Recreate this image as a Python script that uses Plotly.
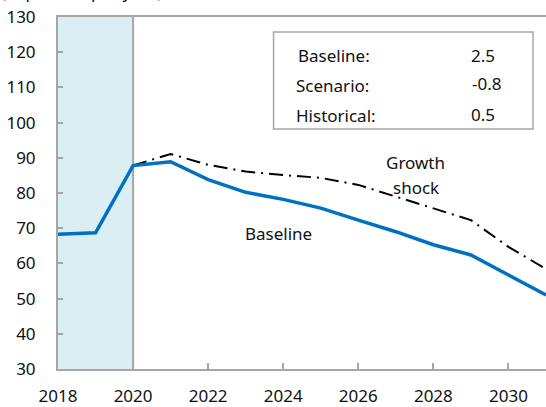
import plotly.graph_objects as go

years = list(range(2018, 2032))
baseline = [68.3, 68.7, 87.8, 88.9, 83.8, 80.2, 78.2, 75.7, 72.3, 69.0, 65.3, 62.4, 56.7, 51.0]
shock_years = list(range(2020, 2032))
growth_shock = [87.8, 91.1, 88.0, 86.1, 85.1, 84.3, 82.3, 79.0, 75.6, 72.3, 64.7, 58.4]

box_labels = ["Baseline:", "Scenario:", "Historical:"]
box_values = ["2.5", "-0.8", "0.5"]

x_ticks = list(range(2018, 2031, 2))
y_ticks = list(range(30, 131, 10))

FONT = "Noto Sans"
GRAY = "#A6A6A6"
TXT = "#111111"

fig = go.Figure()
fig.add_trace(go.Scatter(x=shock_years, y=growth_shock, mode="lines",
                         line=dict(color="black", width=2, dash="14px,6px,2px,6px"),
                         showlegend=False))
fig.add_trace(go.Scatter(x=years, y=baseline, mode="lines",
                         line=dict(color="#0070C0", width=3.5),
                         showlegend=False))

# shaded historical period
fig.add_shape(type="rect", xref="x", yref="y", x0=2018, x1=2020, y0=30, y1=130,
              fillcolor="#DAEEF3", line=dict(width=0), layer="below")
fig.add_shape(type="line", xref="x", yref="y", x0=2020, x1=2020, y0=30, y1=130,
              line=dict(color=GRAY, width=2), layer="below")

# info box
fig.add_shape(type="rect", xref="paper", yref="paper", x0=0.4417, x1=0.9734,
              y0=0.6818, y1=0.9574, fillcolor="white", line=dict(color=GRAY, width=1.5))
label_pos = [(0.4867, 0.892), (0.4826, 0.804), (0.4826, 0.7188)]
value_pos = [(0.8425, 0.892), (0.8446, 0.8125), (0.8425, 0.7216)]
for lab, (lx, ly) in zip(box_labels, label_pos):
    fig.add_annotation(xref="paper", yref="paper", x=lx, y=ly, text=lab, showarrow=False,
                       xanchor="left", yanchor="middle", font=dict(family=FONT, size=17, color=TXT))
for val, (vx, vy) in zip(box_values, value_pos):
    fig.add_annotation(xref="paper", yref="paper", x=vx, y=vy, text=val, showarrow=False,
                       xanchor="left", yanchor="middle", font=dict(family=FONT, size=17, color=TXT))

# line labels
fig.add_annotation(x=2027.52, y=88.8, text="Growth", showarrow=False,
                   font=dict(family=FONT, size=17, color=TXT))
fig.add_annotation(x=2027.55, y=81.7, text="shock", showarrow=False,
                   font=dict(family=FONT, size=17, color=TXT))
fig.add_annotation(x=2023.88, y=68.6, text="Baseline", showarrow=False,
                   font=dict(family=FONT, size=17, color=TXT))

# cut-off subtitle at top
fig.add_annotation(xref="paper", yref="paper", x=0, y=1, xshift=-58, yshift=13,
                   text="(in percent per year)", showarrow=False, xanchor="left",
                   yanchor="bottom", borderpad=0,
                   font=dict(family=FONT, size=17, color=TXT))

fig.update_layout(
    width=546, height=407,
    margin=dict(l=58, r=0, t=17, b=38, autoexpand=False),
    plot_bgcolor="white", paper_bgcolor="white",
    font=dict(family=FONT, size=17, color=TXT),
    xaxis=dict(range=[2018, 2031], tickvals=x_ticks, ticktext=[str(t) for t in x_ticks],
               showgrid=False, zeroline=False, showline=True, linecolor=GRAY, linewidth=2,
               mirror=True, ticks="inside", ticklen=6, tickcolor=GRAY, tickwidth=2,
               ticklabelstandoff=11, tickfont=dict(family=FONT, size=17, color=TXT)),
    yaxis=dict(range=[30, 130], tickvals=y_ticks, ticktext=[str(t) for t in y_ticks],
               showgrid=False, zeroline=False, showline=True, linecolor=GRAY, linewidth=2,
               ticks="inside", ticklen=5, tickcolor=GRAY, tickwidth=2,
               ticklabelstandoff=17, tickfont=dict(family=FONT, size=17, color=TXT)),
)

fig.write_html("out.html", config={"displayModeBar": False},
               post_script="document.body.style.margin='0';document.body.style.overflow='hidden';")
